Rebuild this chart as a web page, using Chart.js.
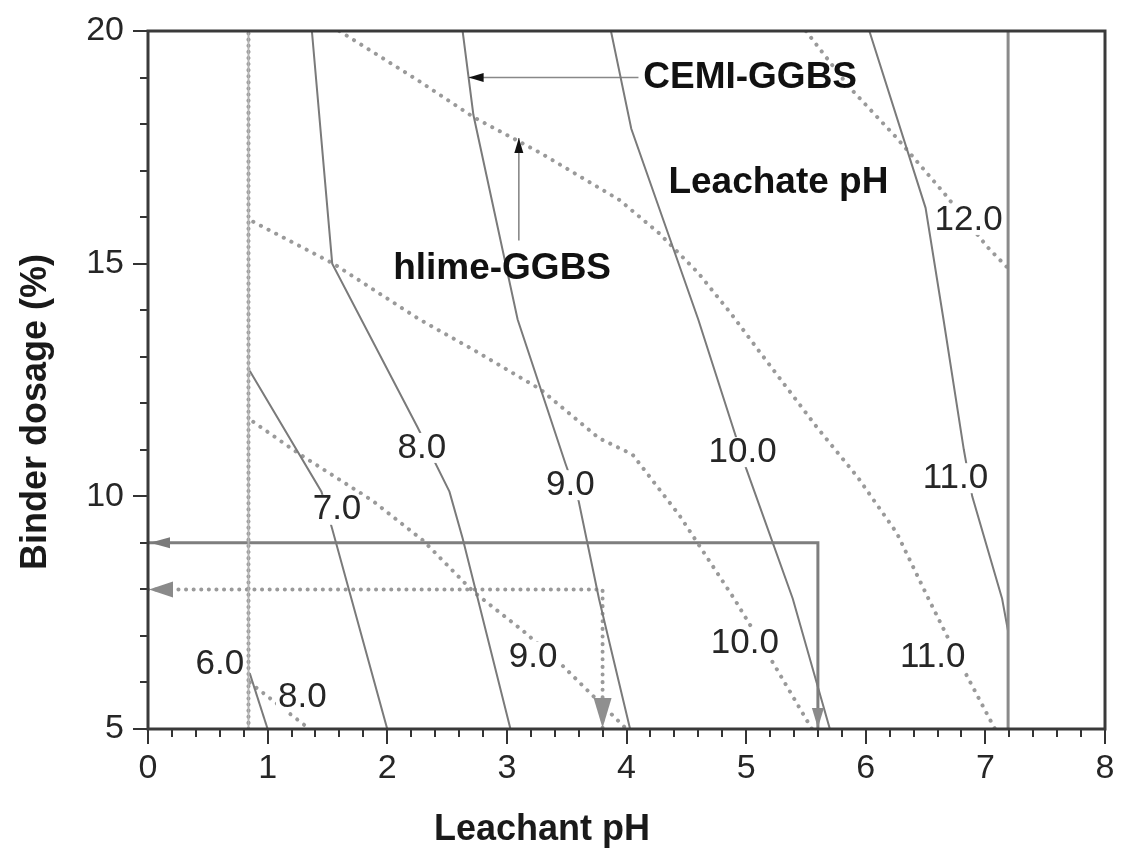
<!DOCTYPE html>
<html>
<head>
<meta charset="utf-8">
<script src="https://cdn.jsdelivr.net/npm/chart.js@4.4.1/dist/chart.umd.min.js"></script>
<style>
  html, body { margin: 0; padding: 0; background: #fff; }
  canvas { display: block; }
</style>
</head>
<body>
<canvas id="c" width="1127" height="858"></canvas>
<script>
// Leachate pH contours for CEMI-GGBS (solid), as [leachant pH, binder dosage %]
const cemi6  = [[0.85, 6.2], [1.0, 5.0]];
const cemi7  = [[0.85, 12.7], [1.45, 10.1], [1.54, 9.3], [2.0, 5.0]];
const cemi8  = [[1.37, 20], [1.54, 15.0], [2.25, 11.5], [2.52, 10.1], [2.63, 9.1], [3.03, 5.0]];
const cemi9  = [[2.63, 20], [2.72, 18.2], [3.09, 13.8], [3.49, 10.7], [3.6, 9.9], [3.77, 7.8], [4.03, 5.0]];
const cemi10 = [[3.87, 20], [4.04, 17.9], [4.6, 13.8], [4.9, 11.4], [5.0, 10.6], [5.39, 7.8], [5.7, 5.0]];
const cemi11 = [[6.03, 20], [6.5, 16.2], [6.65, 13.8], [6.82, 11.0], [6.89, 10.0], [7.14, 7.8], [7.19, 7.1]];

// Leachate pH contours for hlime-GGBS (dotted)
const hlime8  = [[0.85, 6.0], [1.35, 5.0]];
const hlime9  = [[0.88, 11.6], [1.27, 10.9], [1.88, 9.9], [2.3, 9.05], [2.72, 7.95], [3.14, 7.1], [3.45, 6.4], [4.0, 5.0]];
const hlime10 = [[0.88, 15.9], [1.55, 15.0], [2.27, 13.8], [2.72, 13.15], [3.28, 12.3], [3.77, 11.25], [4.05, 10.9], [4.44, 9.6], [4.9, 7.8], [5.23, 6.4], [5.55, 5.0]];
const hlime11 = [[1.6, 20], [2.25, 18.95], [2.72, 18.15], [3.28, 17.38], [3.94, 16.37], [4.27, 15.66], [4.6, 14.8], [4.87, 13.94], [5.1, 13.15], [5.59, 11.49], [5.93, 10.42], [6.26, 9.21], [6.53, 7.77], [6.85, 6.12], [7.08, 5.0]];
const hlime12 = [[5.5, 20], [5.86, 18.8], [6.26, 17.7], [6.66, 16.5], [7.02, 15.35], [7.19, 14.9]];

// Limits of the tested leachant pH range
const hlimeLimit = [[0.84, 5], [0.84, 20]];
const cemiLimit  = [[7.19, 5], [7.19, 20]];

// Design read-off paths: target leachate pH -> required dosage
const cemiDesign  = [[0, 9], [5.6, 9], [5.6, 5]];
const hlimeDesign = [[0, 8], [3.8, 8], [3.8, 5]];

// Pointer shafts for the binder captions (last point is the arrow tip)
const cemiPointer  = [[4.1, 19.0], [2.68, 19.0]];
const hlimePointer = [[3.1, 15.5], [3.1, 17.7]];

// Axis ranges and tick values
const xRange = [0, 8];
const yRange = [5, 20];
const xMinorStep = 0.2;
const yMinorStep = 1;

// Contour value labels, anchored in data coordinates
const contourLabels = [
  { t: '12.0', x: 6.86, y: 15.94, knock: true },
  { t: '11.0', x: 6.75, y: 10.39, knock: true },
  { t: '10.0', x: 4.97, y: 10.95, knock: true },
  { t: '9.0',  x: 3.53, y: 10.24, knock: true },
  { t: '8.0',  x: 2.29, y: 11.04, knock: true },
  { t: '7.0',  x: 1.58, y: 9.71,  knock: true },
  { t: '6.0',  x: 0.60, y: 6.38,  knock: false },
  { t: '8.0',  x: 1.29, y: 5.69,  knock: true },
  { t: '9.0',  x: 3.22, y: 6.55,  knock: true },
  { t: '10.0', x: 4.99, y: 6.85,  knock: true },
  { t: '11.0', x: 6.56, y: 6.55,  knock: true }
];

const captions = [
  { t: 'CEMI-GGBS',   x: 4.14, y: 19.0,  align: 'left' },
  { t: 'Leachate pH', x: 5.27, y: 16.73, align: 'center' },
  { t: 'hlime-GGBS',  x: 2.96, y: 14.9,  align: 'center' }
];

const FONT = '"Liberation Sans", Arial, Helvetica, sans-serif';
const SOLID = '#7a7a7a';
const DOT = '#9a9a9a';

const pts = a => a.map(p => ({ x: p[0], y: p[1] }));

function solid(data, width, color) {
  return { data: pts(data), showLine: true, borderColor: color || SOLID, borderWidth: width || 2,
           pointRadius: 0, fill: false, tension: 0 };
}
function dotted(data, width, color, gap) {
  return { data: pts(data), showLine: true, borderColor: color || DOT, borderWidth: width || 4,
           borderDash: [0.1, gap || 8.5], borderCapStyle: 'round',
           pointRadius: 0, fill: false, tension: 0 };
}

function arrowHead(ctx, tx, ty, dir, len, half, color) {
  ctx.save();
  ctx.fillStyle = color;
  ctx.beginPath();
  if (dir === 'left') {
    ctx.moveTo(tx, ty); ctx.lineTo(tx + len, ty - half); ctx.lineTo(tx + len, ty + half);
  } else if (dir === 'down') {
    ctx.moveTo(tx, ty); ctx.lineTo(tx - half, ty - len); ctx.lineTo(tx + half, ty - len);
  } else if (dir === 'up') {
    ctx.moveTo(tx, ty); ctx.lineTo(tx - half, ty + len); ctx.lineTo(tx + half, ty + len);
  }
  ctx.closePath();
  ctx.fill();
  ctx.restore();
}

const decor = {
  id: 'decor',
  afterDatasetsDraw(chart) {
    const { ctx, chartArea: a } = chart;
    const xs = chart.scales.x, ys = chart.scales.y;
    const px = v => xs.getPixelForValue(v);
    const py = v => ys.getPixelForValue(v);

    // arrow heads of the design paths
    arrowHead(ctx, px(cemiDesign[0][0]) + 2, py(cemiDesign[0][1]), 'left', 20, 5.5, '#7a7a7a');
    arrowHead(ctx, px(cemiDesign[2][0]), py(cemiDesign[2][1]) - 1, 'down', 20, 6, '#8a8a8a');
    arrowHead(ctx, px(hlimeDesign[0][0]) + 1, py(hlimeDesign[0][1]), 'left', 24, 8, '#8a8a8a');
    arrowHead(ctx, px(hlimeDesign[2][0]), py(hlimeDesign[2][1]) - 1, 'down', 30, 9, '#8f8f8f');

    // caption pointers
    const cp = cemiPointer[cemiPointer.length - 1];
    arrowHead(ctx, px(cp[0]), py(cp[1]), 'left', 15, 4.5, '#111');
    const hp = hlimePointer[hlimePointer.length - 1];
    arrowHead(ctx, px(hp[0]), py(hp[1]), 'up', 15, 4.5, '#111');

    // contour value labels
    ctx.save();
    ctx.font = '35px ' + FONT;
    ctx.textAlign = 'center';
    ctx.textBaseline = 'middle';
    contourLabels.forEach(l => {
      const x = px(l.x), y = py(l.y);
      if (l.knock) {
        const w = ctx.measureText(l.t).width;
        ctx.fillStyle = '#fff';
        ctx.fillRect(x - w / 2 - 2, y - 15, w + 4, 30);
      }
      ctx.fillStyle = '#262626';
      ctx.fillText(l.t, x, y);
    });

    // binder captions
    ctx.font = 'bold 37px ' + FONT;
    ctx.fillStyle = '#111';
    captions.forEach(c => {
      ctx.textAlign = c.align;
      ctx.fillText(c.t, px(c.x), py(c.y));
    });
    ctx.restore();
  },
  afterDraw(chart) {
    const { ctx, chartArea: a } = chart;
    const xs = chart.scales.x, ys = chart.scales.y;
    ctx.save();
    // minor ticks
    ctx.strokeStyle = '#333';
    ctx.lineWidth = 2;
    ctx.beginPath();
    for (let v = xRange[0]; v <= xRange[1] + 1e-9; v += xMinorStep) {
      if (Math.abs(v - Math.round(v)) < 1e-6) continue;
      const x = Math.round(xs.getPixelForValue(v));
      ctx.moveTo(x, a.bottom); ctx.lineTo(x, a.bottom + 8);
    }
    for (let v = yRange[0]; v <= yRange[1] + 1e-9; v += yMinorStep) {
      if (Math.abs(v % 5) < 1e-6) continue;
      const y = Math.round(ys.getPixelForValue(v));
      ctx.moveTo(a.left, y); ctx.lineTo(a.left - 8, y);
    }
    ctx.stroke();

    // frame
    ctx.strokeStyle = '#3a3a3a';
    ctx.lineWidth = 3;
    ctx.strokeRect(a.left, a.top, a.right - a.left, a.bottom - a.top);

    // axis titles
    ctx.fillStyle = '#1a1a1a';
    ctx.font = 'bold 36px ' + FONT;
    ctx.textAlign = 'center';
    ctx.textBaseline = 'middle';
    ctx.fillText('Leachant pH', 542, 830);
    ctx.translate(36, 412);
    ctx.rotate(-Math.PI / 2);
    ctx.fillText('Binder dosage (%)', 0, 0);
    ctx.restore();
  }
};

new Chart(document.getElementById('c'), {
  type: 'scatter',
  data: {
    datasets: [
      // range limits
      solid(hlimeLimit, 2, '#b4b4b4'),
      dotted(hlimeLimit, 4, '#8c8c8c', 6),
      solid(cemiLimit, 3, '#8a8a8a'),
      // CEMI-GGBS contours
      solid(cemi6), solid(cemi7), solid(cemi8), solid(cemi9), solid(cemi10), solid(cemi11),
      // hlime-GGBS contours
      dotted(hlime8), dotted(hlime9), dotted(hlime10), dotted(hlime11), dotted(hlime12),
      // design read-off paths
      solid(cemiDesign, 3, '#7e7e7e'),
      dotted(hlimeDesign, 4, '#9a9a9a', 7.5),
      // caption pointers
      solid(cemiPointer, 1.6, '#888'),
      solid(hlimePointer, 1.6, '#888')
    ]
  },
  options: {
    responsive: false,
    animation: false,
    devicePixelRatio: 1,
    layout: { padding: { top: 31, right: 22, left: 0, bottom: 0 } },
    plugins: { legend: { display: false }, tooltip: { enabled: false } },
    elements: { line: { tension: 0 } },
    scales: {
      x: {
        type: 'linear', min: xRange[0], max: xRange[1],
        border: { display: false },
        grid: { drawOnChartArea: false, drawTicks: true, tickLength: 15, color: '#333', lineWidth: 2 },
        ticks: { stepSize: 1, autoSkip: false, maxRotation: 0, padding: 4, color: '#262626',
                 font: { family: FONT, size: 34 } },
        afterFit(s) { s.height = 129; }
      },
      y: {
        type: 'linear', min: yRange[0], max: yRange[1],
        border: { display: false },
        grid: { drawOnChartArea: false, drawTicks: true, tickLength: 15, color: '#333', lineWidth: 2 },
        ticks: { stepSize: 5, autoSkip: false, padding: 9, color: '#262626',
                 font: { family: FONT, size: 34 } },
        afterFit(s) { s.width = 148; }
      }
    }
  },
  plugins: [decor]
});
</script>
</body>
</html>
